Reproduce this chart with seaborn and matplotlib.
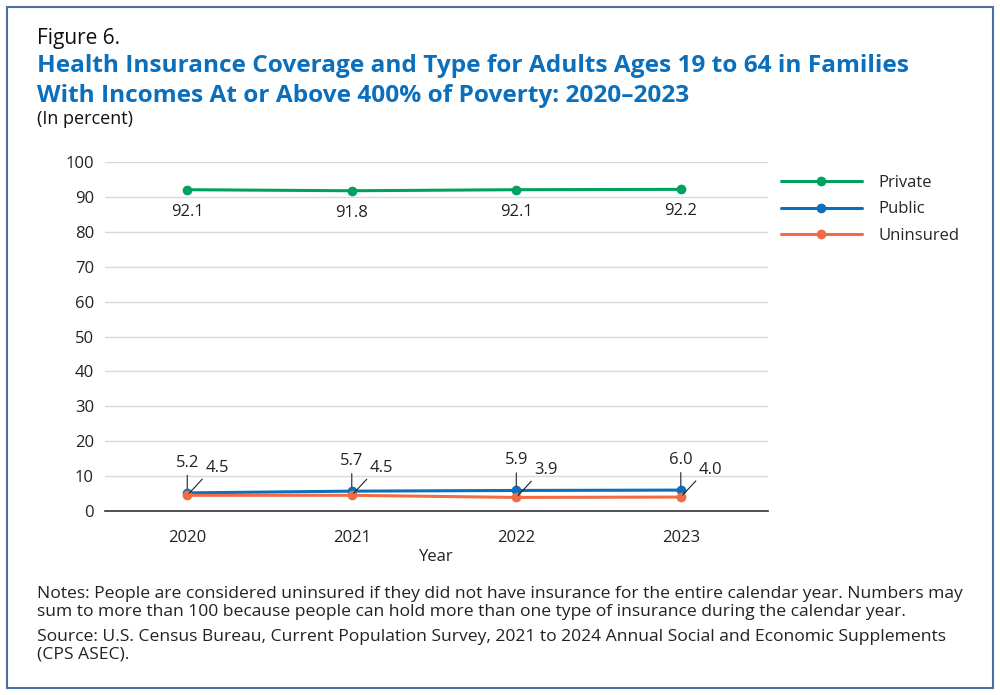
import pandas as pd
import matplotlib.pyplot as plt
import seaborn as sns
from matplotlib.patches import Rectangle

years = [2020, 2021, 2022, 2023]
private = [92.1, 91.8, 92.1, 92.2]
public = [5.2, 5.7, 5.9, 6.0]
uninsured = [4.5, 4.5, 3.9, 4.0]

series_names = ['Private', 'Public', 'Uninsured']
colors = ['#00a15f', '#0a6fbd', '#f26c43']
title_blue = '#0a6fbd'

df = pd.DataFrame({
    'Year': years * 3,
    'Value': private + public + uninsured,
    'Type': ['Private'] * 4 + ['Public'] * 4 + ['Uninsured'] * 4,
})

sns.set_style('white')
plt.rcParams['font.family'] = ['Open Sans', 'DejaVu Sans']

fig = plt.figure(figsize=(10, 6.95), dpi=100)
ax = fig.add_axes([0.105, 0.2647, 0.663, 0.502])

sns.lineplot(data=df, x='Year', y='Value', hue='Type', hue_order=series_names,
             palette=colors, marker='o', markersize=7, markeredgewidth=0,
             linewidth=2.2, ax=ax)

ax.set_xlim(2019.5, 2023.53)
ax.set_ylim(0, 100)
ax.set_yticks(range(0, 101, 10))
ax.set_xticks(years)
ax.set_xticklabels([str(y) for y in years])
ax.grid(axis='y', color='#d9d9d9', linewidth=1)
ax.grid(axis='x', visible=False)
for s in ['left', 'right', 'top']:
    ax.spines[s].set_visible(False)
ax.spines['bottom'].set_color('#333333')
ax.spines['bottom'].set_linewidth(1.2)
ax.tick_params(axis='both', length=0, labelsize=12, colors='#222222')
ax.tick_params(axis='x', pad=14)
ax.tick_params(axis='y', pad=8)
ax.set_xlabel('Year', fontsize=12, color='#222222', labelpad=2)
ax.set_ylabel('')

# data labels
for x, v in zip(years, private):
    ax.annotate(f'{v:.1f}', (x, v), xytext=(0, -10), textcoords='offset points',
                ha='center', va='top', fontsize=12, color='#222222')
for x, v in zip(years, public):
    ax.annotate(f'{v:.1f}', (x, v), xytext=(0, 16), textcoords='offset points',
                ha='center', va='bottom', fontsize=12, color='#222222',
                arrowprops=dict(arrowstyle='-', color='#222222', lw=0.8,
                                shrinkA=1, shrinkB=3))
for x, v in zip(years, uninsured):
    ax.annotate(f'{v:.1f}', (x, v), xytext=(13, 14), textcoords='offset points',
                ha='left', va='bottom', fontsize=12, color='#222222',
                arrowprops=dict(arrowstyle='-', color='#222222', lw=0.8,
                                shrinkA=0, shrinkB=2, relpos=(0, 0)))

handles, labels = ax.get_legend_handles_labels()
leg = ax.legend(handles, labels, loc='upper left', bbox_to_anchor=(1.0, 1.0),
                frameon=False, fontsize=12, handlelength=4.9, labelspacing=0.65,
                borderaxespad=0.35, handletextpad=1.0)

# text block
fig.text(0.037, 0.945, 'Figure 6.', fontsize=15, color='#111111', va='center')
fig.text(0.037, 0.905, 'Health Insurance Coverage and Type for Adults Ages 19 to 64 in Families',
         fontsize=17.6, fontweight='bold', color=title_blue, va='center')
fig.text(0.037, 0.862, 'With Incomes At or Above 400% of Poverty: 2020\u20132023',
         fontsize=17.6, fontweight='bold', color=title_blue, va='center')
fig.text(0.037, 0.829, '(In percent)', fontsize=13, color='#111111', va='center')

notes = ('Notes: People are considered uninsured if they did not have insurance for the entire calendar year. Numbers may\n'
         'sum to more than 100 because people can hold more than one type of insurance during the calendar year.')
source = ('Source: U.S. Census Bureau, Current Population Survey, 2021 to 2024 Annual Social and Economic Supplements\n'
          '(CPS ASEC).')
fig.text(0.037, 0.132, notes, fontsize=12.6, color='#222222', va='center', linespacing=1.15)
fig.text(0.037, 0.0705, source, fontsize=12.6, color='#222222', va='center', linespacing=1.15)

fig.patches.append(Rectangle((0.007, 0.01), 0.986, 0.98, transform=fig.transFigure,
                             fill=False, edgecolor='#4a6fa5', linewidth=1.5))

fig.savefig('out.png', dpi=100)
